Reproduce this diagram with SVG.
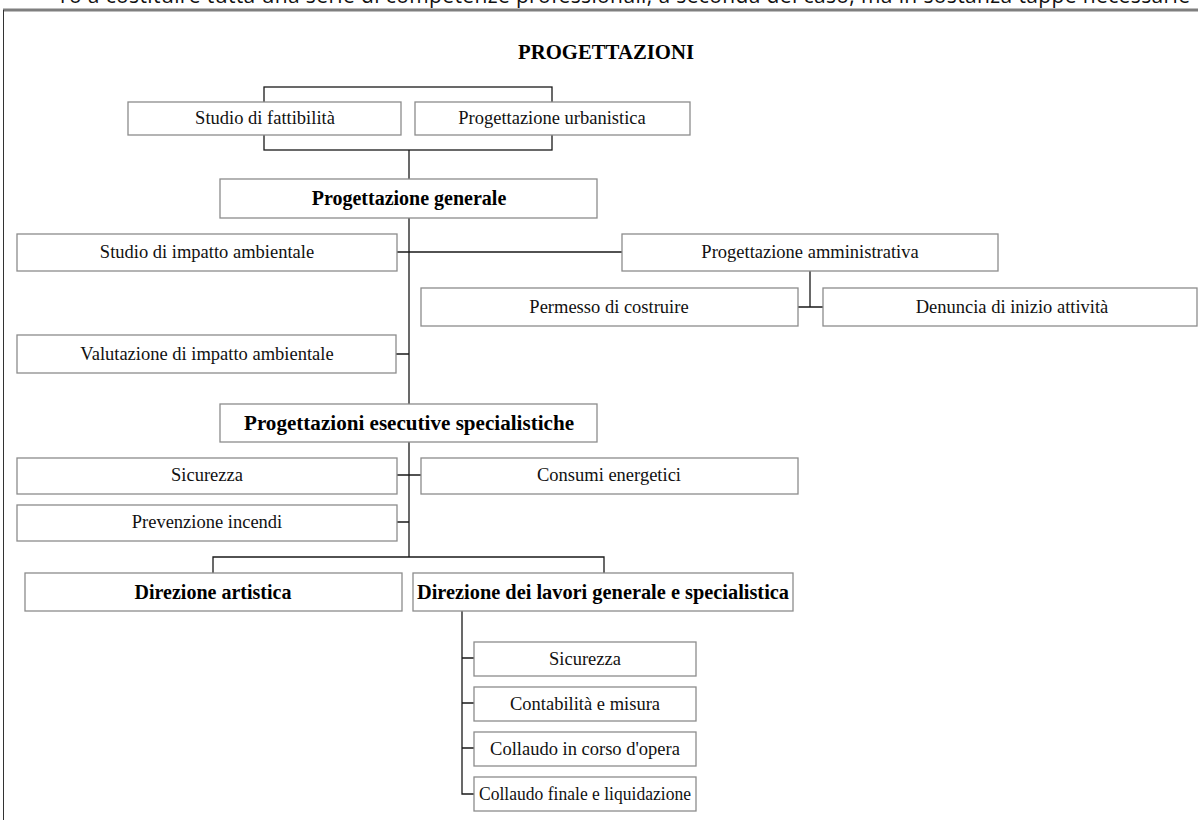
<svg xmlns="http://www.w3.org/2000/svg" width="1198" height="820" viewBox="0 0 1198 820">
<style>
.bx{fill:#fff;stroke:#8c8c8c;stroke-width:1.3}
.t{font-family:"Liberation Serif",serif;font-size:18.5px;fill:#111;text-anchor:middle}
.b{font-family:"Liberation Serif",serif;font-size:20px;font-weight:bold;fill:#000;text-anchor:middle}
.c{fill:none;stroke:#1a1a1a;stroke-width:1.3}
</style>
<rect width="1198" height="820" fill="#fff"/>
<text x="60" y="3" font-family="Open Sans, sans-serif" font-size="21" fill="#111" textLength="1130" lengthAdjust="spacing">ro a costituire tutta una serie di competenze professionali, a seconda del caso, ma in sostanza tappe necessarie</text>
<line x1="3" y1="10" x2="1198" y2="10" stroke="#7f7f7f" stroke-width="3"/>
<line x1="3.5" y1="10" x2="3.5" y2="820" stroke="#333" stroke-width="1"/>
<text id="title" class="b" x="606" y="59" textLength="176" lengthAdjust="spacingAndGlyphs">PROGETTAZIONI</text>
<g id="connectors">
<rect class="c" x="264" y="87" width="288" height="63"/>
<path class="c" d="M409,150V179M409,218V557M396,252H622M810,271V307M798,307H823M396,354H409M397,475H421M397,522H409M213,573V557H604V573M462,611V794H474M462,658H474M462,703H474M462,748H474"/>
</g>
<g id="n-fattibilita"><rect class="bx" x="128" y="102" width="273" height="33"/><text class="t" x="265" y="124">Studio di fattibilità</text></g>
<g id="n-urbanistica"><rect class="bx" x="415" y="102" width="275" height="33"/><text class="t" x="552" y="124">Progettazione urbanistica</text></g>
<g id="n-generale"><rect class="bx" x="220" y="179" width="377" height="39"/><text class="b" x="409" y="205">Progettazione generale</text></g>
<g id="n-impatto"><rect class="bx" x="17" y="234" width="380" height="37"/><text class="t" x="207" y="258">Studio di impatto ambientale</text></g>
<g id="n-amministrativa"><rect class="bx" x="622" y="234" width="376" height="37"/><text class="t" x="810" y="258">Progettazione amministrativa</text></g>
<g id="n-permesso"><rect class="bx" x="421" y="288" width="377" height="38"/><text class="t" x="609" y="313">Permesso di costruire</text></g>
<g id="n-denuncia"><rect class="bx" x="823" y="288" width="374" height="38"/><text class="t" x="1012" y="313">Denuncia di inizio attività</text></g>
<g id="n-valutazione"><rect class="bx" x="17" y="335" width="379" height="38"/><text class="t" x="207" y="360">Valutazione di impatto ambientale</text></g>
<g id="n-esecutive"><rect class="bx" x="220" y="404" width="377" height="38"/><text class="b" x="409" y="430" textLength="330" lengthAdjust="spacingAndGlyphs">Progettazioni esecutive specialistiche</text></g>
<g id="n-sicurezza1"><rect class="bx" x="17" y="458" width="380" height="36"/><text class="t" x="207" y="481">Sicurezza</text></g>
<g id="n-consumi"><rect class="bx" x="421" y="458" width="377" height="36"/><text class="t" x="609" y="481">Consumi energetici</text></g>
<g id="n-prevenzione"><rect class="bx" x="17" y="505" width="380" height="36"/><text class="t" x="207" y="528">Prevenzione incendi</text></g>
<g id="n-artistica"><rect class="bx" x="25" y="573" width="377" height="38"/><text class="b" x="213" y="599">Direzione artistica</text></g>
<g id="n-lavori"><rect class="bx" x="413" y="573" width="380" height="38"/><text class="b" x="603" y="599" textLength="372" lengthAdjust="spacingAndGlyphs">Direzione dei lavori generale e specialistica</text></g>
<g id="n-sicurezza2"><rect class="bx" x="474" y="642" width="222" height="34"/><text class="t" x="585" y="665">Sicurezza</text></g>
<g id="n-contabilita"><rect class="bx" x="474" y="687" width="222" height="34"/><text class="t" x="585" y="710">Contabilità e misura</text></g>
<g id="n-collaudo1"><rect class="bx" x="474" y="732" width="222" height="34"/><text class="t" x="585" y="755">Collaudo in corso d'opera</text></g>
<g id="n-collaudo2"><rect class="bx" x="474" y="777" width="222" height="34"/><text class="t" x="585" y="800" textLength="212" lengthAdjust="spacingAndGlyphs">Collaudo finale e liquidazione</text></g>
</svg>
